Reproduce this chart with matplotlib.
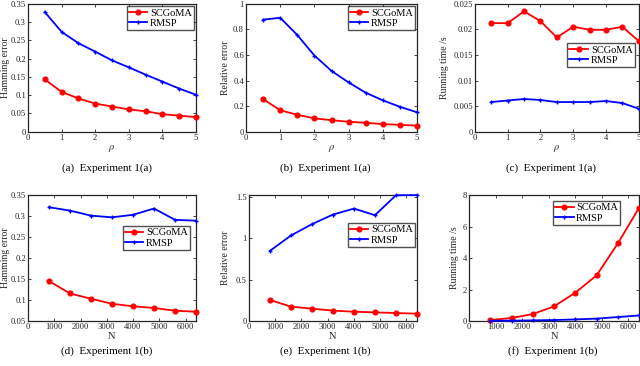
import matplotlib
matplotlib.use("Agg")
import matplotlib.pyplot as plt
from matplotlib.ticker import FuncFormatter

plt.rcParams['font.family'] = ['Liberation Serif', 'DejaVu Serif']
plt.rcParams['mathtext.fontset'] = 'stix'

rho = [0.5, 1.0, 1.5, 2.0, 2.5, 3.0, 3.5, 4.0, 4.5, 5.0]
N = [800, 1600, 2400, 3200, 4000, 4800, 5600, 6400]

ham_rho_scg = [0.143, 0.109, 0.091, 0.077, 0.069, 0.061, 0.056, 0.048, 0.044, 0.040]
ham_rho_rmsp = [0.327, 0.273, 0.242, 0.219, 0.195, 0.176, 0.156, 0.137, 0.118, 0.101]
rel_rho_scg = [0.255, 0.168, 0.132, 0.105, 0.090, 0.078, 0.070, 0.060, 0.054, 0.048]
rel_rho_rmsp = [0.875, 0.890, 0.755, 0.595, 0.475, 0.385, 0.305, 0.245, 0.195, 0.152]
time_rho_scg = [0.0212, 0.0212, 0.0235, 0.0216, 0.0184, 0.0205, 0.0199, 0.0199, 0.0205, 0.0177]
time_rho_rmsp = [0.0058, 0.0061, 0.0064, 0.0062, 0.0058, 0.0058, 0.0058, 0.0060, 0.0056, 0.0045]

ham_N_scg = [0.145, 0.1155, 0.103, 0.091, 0.085, 0.081, 0.0745, 0.072]
ham_N_rmsp = [0.321, 0.313, 0.301, 0.297, 0.303, 0.318, 0.291, 0.289]
rel_N_scg = [0.253, 0.173, 0.149, 0.125, 0.112, 0.104, 0.096, 0.088]
rel_N_rmsp = [0.847, 1.032, 1.169, 1.285, 1.357, 1.277, 1.518, 1.520]
time_N_scg = [0.06, 0.19, 0.44, 0.93, 1.80, 2.90, 4.93, 7.20]
time_N_rmsp = [0.01, 0.02, 0.04, 0.06, 0.10, 0.15, 0.25, 0.35]

fig = plt.figure(figsize=(6.4, 3.66), dpi=100)

panels = [
    dict(rect=[0.04375, 0.640, 0.2625, 0.350], x=rho, a=ham_rho_scg, b=ham_rho_rmsp,
         xlim=(0, 5), xt=[0, 1, 2, 3, 4, 5], ylim=(0, 0.35),
         yt=[0, 0.05, 0.1, 0.15, 0.2, 0.25, 0.3, 0.35], xl=r'$\rho$', yl='Hamming error',
         ylx=-0.108, leg=(0.988, 0.98), cap='(a)  Experiment 1(a)', cx=107, cy=168),
    dict(rect=[0.3844, 0.640, 0.2672, 0.350], x=rho, a=rel_rho_scg, b=rel_rho_rmsp,
         xlim=(0, 5), xt=[0, 1, 2, 3, 4, 5], ylim=(0, 1),
         yt=[0, 0.2, 0.4, 0.6, 0.8, 1], xl=r'$\rho$', yl='Relative error',
         ylx=-0.094, leg=(0.988, 0.98), cap='(b)  Experiment 1(a)', cx=325, cy=168),
    dict(rect=[0.742, 0.640, 0.256, 0.350], x=rho, a=time_rho_scg, b=time_rho_rmsp,
         xlim=(0, 5), xt=[0, 1, 2, 3, 4, 5], ylim=(0, 0.025),
         yt=[0, 0.005, 0.01, 0.015, 0.02, 0.025], xl=r'$\rho$', yl='Running time /s',
         ylx=-0.159, leg=(0.976, 0.69), cap='(c)  Experiment 1(a)', cx=551, cy=168),
    dict(rect=[0.04375, 0.123, 0.2625, 0.344], x=N, a=ham_N_scg, b=ham_N_rmsp,
         xlim=(0, 6400), xt=[0, 1000, 2000, 3000, 4000, 5000, 6000], ylim=(0.05, 0.35),
         yt=[0.05, 0.1, 0.15, 0.2, 0.25, 0.3, 0.35], xl='N', yl='Hamming error',
         ylx=-0.108, leg=(0.964, 0.754), cap='(d)  Experiment 1(b)', cx=107, cy=351),
    dict(rect=[0.389, 0.123, 0.2625, 0.344], x=N, a=rel_N_scg, b=rel_N_rmsp,
         xlim=(0, 6400), xt=[0, 1000, 2000, 3000, 4000, 5000, 6000], ylim=(0, 1.52),
         yt=[0, 0.5, 1, 1.5], xl='N', yl='Relative error',
         ylx=-0.113, leg=(0.988, 0.778), cap='(e)  Experiment 1(b)', cx=325, cy=351),
    dict(rect=[0.733, 0.123, 0.2656, 0.344], x=N, a=time_N_scg, b=time_N_rmsp,
         xlim=(0, 6400), xt=[0, 1000, 2000, 3000, 4000, 5000, 6000], ylim=(0, 8),
         yt=[0, 2, 4, 6, 8], xl='N', yl='Running time /s',
         ylx=-0.059, leg=(0.888, 0.952), cap='(f)  Experiment 1(b)', cx=553, cy=351),
]

fmt = FuncFormatter(lambda v, p: '%g' % v)
tc = '#262626'
for p in panels:
    ax = fig.add_axes(p['rect'])
    ax.plot(p['x'], p['a'], color='#ff0000', lw=1.3, marker='o', ms=3.4,
            label='SCGoMA', clip_on=False, zorder=3)
    ax.plot(p['x'], p['b'], color='#0000ff', lw=1.3, marker='+', ms=3, mew=1,
            label='RMSP', clip_on=False, zorder=3)
    ax.set_xlim(*p['xlim'])
    ax.set_ylim(*p['ylim'])
    ax.set_xticks(p['xt'])
    ax.set_yticks(p['yt'])
    ax.xaxis.set_major_formatter(fmt)
    ax.yaxis.set_major_formatter(fmt)
    ax.tick_params(direction='in', top=True, right=True, length=2.5, width=0.6,
                   labelsize=6.2, colors=tc, pad=1.5)
    for s in ax.spines.values():
        s.set_color(tc)
        s.set_linewidth(0.9)
    ax.set_xlabel(p['xl'], fontsize=7.5, color=tc, labelpad=1)
    ax.set_ylabel(p['yl'], fontsize=7.0, color=tc)
    ax.yaxis.set_label_coords(p['ylx'], 0.5)
    leg = ax.legend(loc='upper right', bbox_to_anchor=p['leg'], fontsize=7.5,
                    frameon=True, fancybox=False, borderpad=0.2, handlelength=1.8,
                    handletextpad=0.25, labelspacing=0.1, borderaxespad=0.0)
    leg.get_frame().set_edgecolor('#262626')
    leg.get_frame().set_linewidth(1.0)
    fig.text(p['cx'] / 640, 1 - p['cy'] / 366, p['cap'], ha='center', va='center',
             fontsize=8, color='#000000')

fig.savefig('out.png', dpi=100)
